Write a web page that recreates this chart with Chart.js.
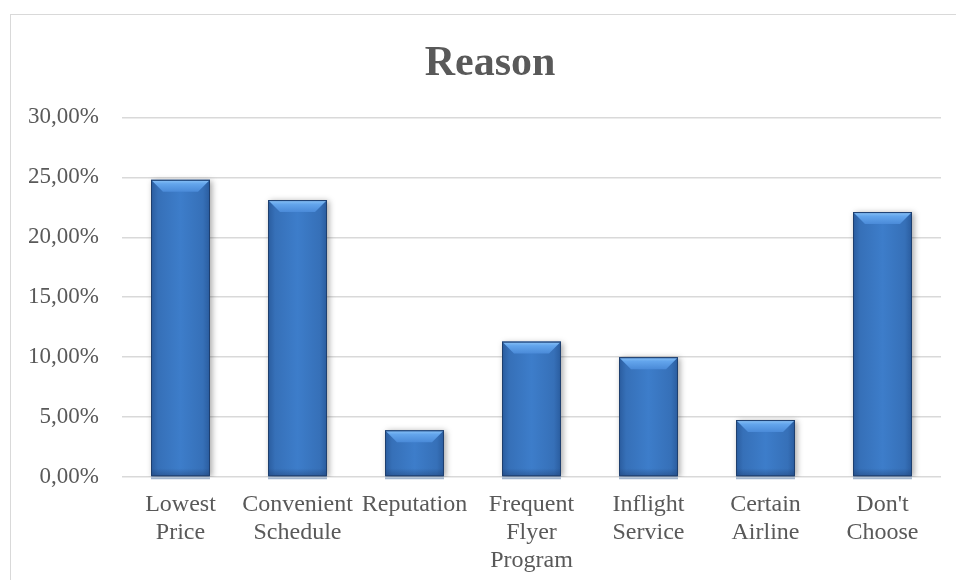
<!DOCTYPE html>
<html>
<head>
<meta charset="utf-8">
<script src="https://cdn.jsdelivr.net/npm/chart.js@4.4.1/dist/chart.umd.min.js"></script>
<style>
  html, body { margin: 0; padding: 0; background: #fff; overflow: hidden; }
  #wrap { position: relative; width: 956px; height: 580px; }
  #frame { position: absolute; left: 10px; top: 14px; width: 1200px; height: 900px; border: 1px solid #d9d9d9; box-sizing: border-box; }
  #c { position: absolute; left: 0; top: 0; }
</style>
</head>
<body>
<div id="wrap">
  <div id="frame"></div>
  <canvas id="c" width="956" height="580"></canvas>
</div>
<script>
const chartTitle = "Reason";
const categories = [
  ["Lowest", "Price"],
  ["Convenient", "Schedule"],
  ["Reputation"],
  ["Frequent", "Flyer", "Program"],
  ["Inflight", "Service"],
  ["Certain", "Airline"],
  ["Don't", "Choose"]
];
const shares = [24.8, 23.1, 3.9, 11.3, 10.0, 4.75, 22.1];
const yMin = 0, yMax = 30, yStep = 5;

function fmtPct(v) { return v.toFixed(2).replace('.', ',') + '%'; }

function barFill(ctx) {
  const chart = ctx.chart;
  if (!chart.chartArea || !chart.scales.x) return '#3a78c4';
  const xs = chart.scales.x;
  const cx = xs.getPixelForValue(ctx.dataIndex);
  const w = xs.width / categories.length * 0.504;
  const g = chart.ctx.createLinearGradient(cx - w / 2, 0, cx + w / 2, 0);
  g.addColorStop(0, '#2a5c9e');
  g.addColorStop(0.12, '#3670b8');
  g.addColorStop(0.5, '#3d7dca');
  g.addColorStop(0.88, '#3670b8');
  g.addColorStop(1, '#2a5c9e');
  return g;
}

const bevelPlugin = {
  id: 'bevel',
  beforeDatasetsDraw(chart) {
    const c = chart.ctx;
    c.save();
    c.shadowColor = 'rgba(0,0,0,0.35)';
    c.shadowBlur = 6;
    c.shadowOffsetX = 2;
    c.shadowOffsetY = 1;
  },
  afterDatasetsDraw(chart) {
    const c = chart.ctx;
    c.restore();
    const meta = chart.getDatasetMeta(0);
    meta.data.forEach(bar => {
      const l = bar.x - bar.width / 2, r = bar.x + bar.width / 2;
      const t = bar.y, b = bar.base;
      const d = Math.min(12, (b - t) / 2);
      c.save();
      const g = c.createLinearGradient(0, t, 0, t + d);
      g.addColorStop(0, '#8cc4f7');
      g.addColorStop(0.35, '#63a5ec');
      g.addColorStop(1, '#4a8ad8');
      c.fillStyle = g;
      c.beginPath();
      c.moveTo(l + 1, t + 1);
      c.lineTo(r - 1, t + 1);
      c.lineTo(r - d, t + d);
      c.lineTo(l + d, t + d);
      c.closePath();
      c.fill();
      const gb = c.createLinearGradient(0, b - 8, 0, b);
      gb.addColorStop(0, 'rgba(30,60,110,0)');
      gb.addColorStop(1, 'rgba(30,60,110,0.45)');
      c.fillStyle = gb;
      c.fillRect(l + 1, b - 8, r - l - 2, 8);
      c.strokeStyle = '#1f3f6e';
      c.lineWidth = 1;
      c.strokeRect(l + 0.5, t + 0.5, r - l - 1, b - t - 1);
      c.fillStyle = '#a3b6ce';
      c.fillRect(l, b + 1, r - l, 2);
      c.restore();
    });
  }
};

new Chart(document.getElementById('c'), {
  type: 'bar',
  data: {
    labels: categories,
    datasets: [{
      data: shares,
      backgroundColor: barFill,
      borderWidth: 0,
      categoryPercentage: 1,
      barPercentage: 0.504
    }]
  },
  plugins: [bevelPlugin],
  options: {
    responsive: false,
    animation: false,
    devicePixelRatio: 1,
    layout: { padding: { left: 39, right: 15, top: 0, bottom: 0 } },
    plugins: {
      legend: { display: false },
      tooltip: { enabled: false },
      title: {
        display: true,
        text: chartTitle,
        color: '#595959',
        font: { family: "'Liberation Serif', 'Times New Roman', serif", size: 42, weight: 'bold', lineHeight: 1.2 },
        padding: { top: 39, bottom: 28 }
      }
    },
    scales: {
      x: {
        grid: { display: false, drawTicks: false },
        border: { display: false },
        ticks: {
          color: '#595959',
          font: { family: "'Liberation Serif', 'Times New Roman', serif", size: 24, lineHeight: 1.167 },
          padding: 14,
          maxRotation: 0,
          autoSkip: false
        },
        afterFit(s) { s.height = 103; }
      },
      y: {
        min: yMin, max: yMax,
        grid: { color: '#d9d9d9', lineWidth: 1.5, drawTicks: false },
        border: { display: false },
        ticks: {
          stepSize: yStep,
          color: '#595959',
          font: { family: "'Liberation Serif', 'Times New Roman', serif", size: 23 },
          padding: 23,
          callback: v => fmtPct(v)
        },
        afterFit(s) { s.width = 83; s._computeLabelArea = () => null; }
      }
    }
  }
});
</script>
</body>
</html>
